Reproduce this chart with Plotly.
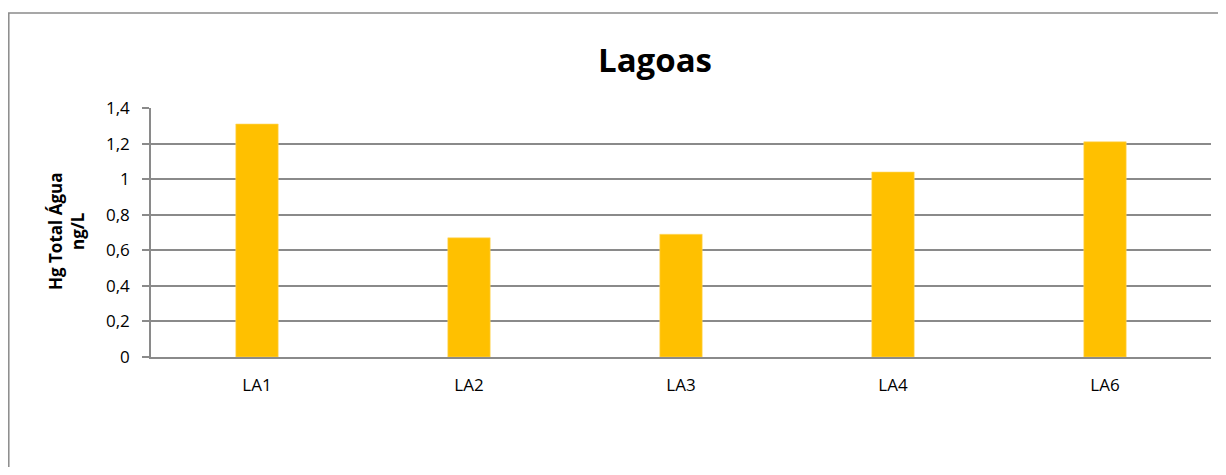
import plotly.graph_objects as go

categories = ["LA1", "LA2", "LA3", "LA4", "LA6"]
values = [1.31, 0.67, 0.69, 1.04, 1.21]
y_ticks = [0, 0.2, 0.4, 0.6, 0.8, 1.0, 1.2, 1.4]

# page body adds an 8px margin, so the figure is drawn 16px smaller
W, H = 1210, 459
L, R, T, B = 143, 7, 100, 110
pw, ph = W - L - R, H - T - B
FONT = "Open Sans, Lato, sans-serif"
GRID = "#8a8a8a"

fig = go.Figure(go.Bar(
    x=categories, y=values,
    marker=dict(color="#FFC000", line=dict(color="#FFD966", width=0.6)),
    width=0.2,
))

fig.update_layout(
    width=W, height=H,
    margin=dict(l=L, r=R, t=T, b=B),
    paper_bgcolor="white", plot_bgcolor="white",
    separators=",.",
    showlegend=False,
    font=dict(family=FONT, color="black", size=16),
    title=dict(text="<b>Lagoas</b>", x=647 / W, xanchor="center",
               y=1 - 52 / H, yanchor="middle",
               font=dict(size=33, family=FONT, color="black")),
    bargap=0.8,
)

fig.update_yaxes(
    range=[0, 1.4], tickvals=y_ticks, tickformat="~g",
    showgrid=True, gridcolor=GRID, gridwidth=1.5,
    showline=True, linecolor=GRID, linewidth=1.5,
    ticks="outside", ticklen=7, tickcolor=GRID, tickwidth=1.5,
    ticklabelstandoff=9,
    tickfont=dict(size=17, family=FONT),
    zeroline=False,
)
fig.update_xaxes(
    showline=True, linecolor=GRID, linewidth=1.5,
    ticks="", ticklabelstandoff=12,
    tickfont=dict(size=17, family=FONT),
    showgrid=False,
)

# y-axis title as annotation for exact placement
fig.add_annotation(
    text="<b>Hg Total Água<br>ng/L</b>", textangle=-90,
    xref="paper", yref="paper",
    x=(58 - L) / pw, y=(H - B - 224) / ph,
    xanchor="center", yanchor="middle", showarrow=False,
    font=dict(size=17, family=FONT, color="black"),
)

# outer chart border (right/bottom edges fall outside the visible area)
x0 = (0.8 - L) / pw
yt = (H - B - 5) / ph
fig.add_shape(type="rect", xref="paper", yref="paper",
              x0=x0, x1=1.2, y0=-0.8, y1=yt,
              line=dict(color=GRID, width=1.5), fillcolor="rgba(0,0,0,0)",
              layer="below")

fig.write_html("out.html")
